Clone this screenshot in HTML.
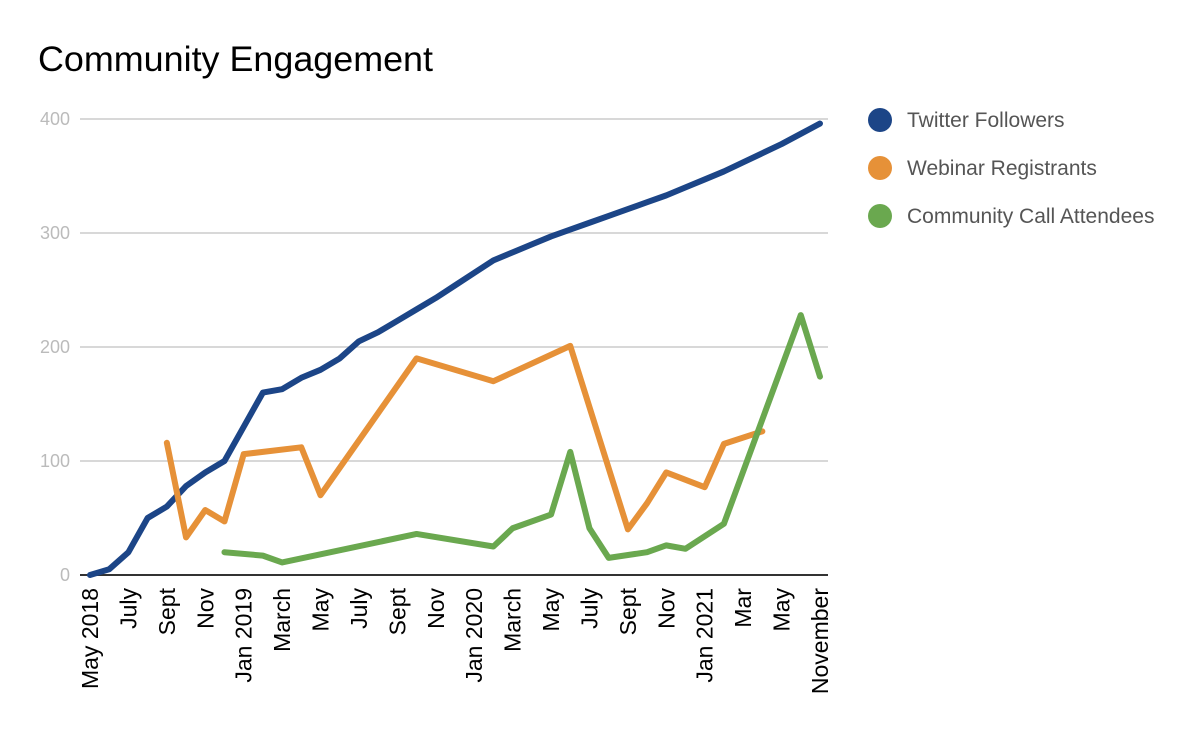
<!DOCTYPE html>
<html><head><meta charset="utf-8"><style>
body{margin:0;background:#fff;width:1200px;height:742px;overflow:hidden;font-family:"Liberation Sans",Arial,sans-serif}
</style></head><body>
<svg width="1200" height="742" id="c">
<text x="38" y="71" font-size="35" fill="#000" textLength="395" lengthAdjust="spacingAndGlyphs">Community Engagement</text>
</svg>
<script>
const xLabels=["May 2018","July","Sept","Nov","Jan 2019","March","May","July","Sept","Nov","Jan 2020","March","May","July","Sept","Nov","Jan 2021","Mar","May","November"];
const yTicks=[0,100,200,300,400];
const twitterX=[0,1,2,3,4,5,6,7,8,9,10,11,12,13,14,15,16,17,18,19,20,21,22,23,24,25,26,27,28,29,30,31,32,33,34,35,36,37,38];
const twitterY=[0,5,20,50,60,78,90,100,130,160,163,173,180,190,205,213,223,233,243,254,265,276,283,290,297,303,309,315,321,327,333,340,347,354,362,370,378,387,396];
const webinarX=[4,5,6,7,8,11,12,17,21,25,28,29,30,32,33,35];
const webinarY=[116,33,57,47,106,112,70,190,170,201,40,63,90,77,115,126];
const callX=[7,9,10,17,21,22,24,25,26,27,29,30,31,33,37,38];
const callY=[20,17,11,36,25,41,53,108,41,15,20,26,23,45,228,174];
const svg=document.getElementById('c');const NS='http://www.w3.org/2000/svg';
const xs=i=>90+i*19.21, ys=v=>575-v*1.14;
function mk(t,a){const e=document.createElementNS(NS,t);for(const k in a)e.setAttribute(k,a[k]);svg.appendChild(e);return e;}
yTicks.forEach(v=>{
 if(v>0){const g=mk('line',{x1:80,x2:828,y1:ys(v),y2:ys(v),stroke:'#ccc','stroke-width':1.5});
 
 }
 const t=mk('text',{x:70,y:ys(v)+6,'font-size':18,fill:'#bbb','text-anchor':'end'});t.textContent=v;
 
 
});
xLabels.forEach((l,k)=>{const x=xs(k*2)+8;const t=mk('text',{x:x,y:588,'font-size':23,fill:'#000','text-anchor':'end',transform:`rotate(-90 ${x} 588)`});t.textContent=l;
 
 });
const ax=mk('line',{x1:80,x2:828,y1:575,y2:575,stroke:'#333','stroke-width':2});


function series(X,Y,c,n){const p=mk('polyline',{points:X.map((x,i)=>xs(x)+','+ys(Y[i])).join(' '),fill:'none',stroke:c,'stroke-width':6,'stroke-linejoin':'round','stroke-linecap':'round'});
 
 }
series(twitterX,twitterY,'#1c4587','twitter-followers-line');
series(webinarX,webinarY,'#e69138','webinar-registrants-line');
series(callX,callY,'#6aa84f','community-call-line');
[["Twitter Followers",'#1c4587'],["Webinar Registrants",'#e69138'],["Community Call Attendees",'#6aa84f']].forEach((d,i)=>{
 const y=120+i*48;
 const c=mk('circle',{cx:880,cy:y,r:12,fill:d[1]});
 
 
 const t=mk('text',{x:907,y:y+7,'font-size':21,fill:'#555'});t.textContent=d[0];
 
 
});
</script>
</body></html>
